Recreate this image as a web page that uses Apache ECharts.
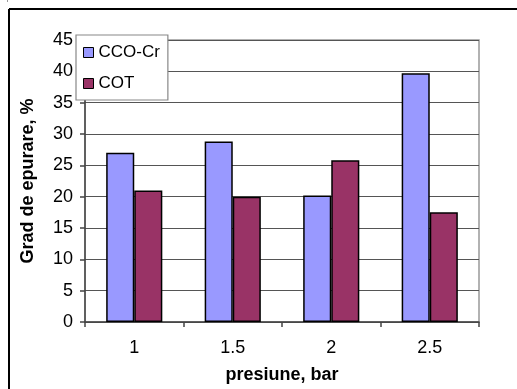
<!DOCTYPE html>
<html>
<head>
<meta charset="utf-8">
<script src="https://cdn.jsdelivr.net/npm/echarts@6/dist/echarts.min.js"></script>
<style>
html,body{margin:0;padding:0;background:#fff;}
#c{width:517px;height:389px;}
</style>
</head>
<body>
<div id="c"></div>
<script>
var categories = ['1', '1.5', '2', '2.5'];
var ccoCr = [27, 28.8, 20.2, 39.7];
var cot = [21, 20, 25.8, 17.5];
var yTicks = [0, 5, 10, 15, 20, 25, 30, 35, 40, 45];

var chart = echarts.init(document.getElementById('c'), null, {renderer: 'canvas'});
var font = '"Liberation Sans", Arial, sans-serif';
chart.setOption({
  animation: false,
  backgroundColor: '#fff',
  textStyle: {fontFamily: font},
  grid: {left: 85, right: 38, top: 40, bottom: 67, show: true, borderColor: '#999', borderWidth: 1.5, backgroundColor: 'transparent'},
  legend: {
    orient: 'vertical', left: 76, top: 35,
    backgroundColor: '#fff', borderColor: '#888', borderWidth: 1.2,
    padding: [9, 8, 8, 7], itemWidth: 10, itemHeight: 10, itemGap: 14, itemTextGap: 8,
    icon: 'rect',
    textStyle: {fontSize: 17, color: '#000', fontFamily: font},
    itemStyle: {borderColor: '#000', borderWidth: 1},
    data: ['CCO-Cr', 'COT'],
    z: 10
  },
  xAxis: {
    type: 'category', data: categories,
    name: 'presiune, bar', nameLocation: 'middle', nameGap: 44,
    nameTextStyle: {fontSize: 18, fontWeight: 'bold', color: '#000', fontFamily: font},
    axisLine: {lineStyle: {color: '#444', width: 1.5}},
    axisTick: {show: true, length: 5, lineStyle: {color: '#444', width: 1.5}},
    axisLabel: {fontSize: 18, color: '#000', margin: 17, fontFamily: font}
  },
  yAxis: {
    type: 'value', min: 0, max: 45, interval: 5,
    name: 'Grad de epurare, %', nameLocation: 'middle', nameGap: 48,
    nameTextStyle: {fontSize: 18, fontWeight: 'bold', color: '#000', fontFamily: font},
    axisLine: {show: true, lineStyle: {color: '#444', width: 1.5}},
    axisTick: {show: true, length: 5, lineStyle: {color: '#444', width: 1.5}},
    axisLabel: {fontSize: 18, color: '#000', margin: 12, fontFamily: font,
      formatter: function (v) { return yTicks.indexOf(v) >= 0 ? String(v) : ''; }},
    splitLine: {lineStyle: {color: '#555', width: 1.2}}
  },
  series: [
    {name: 'CCO-Cr', type: 'bar', data: ccoCr, barWidth: '28.5%', barGap: '0%',
      itemStyle: {color: '#9999FF', borderColor: '#000', borderWidth: 1.5}},
    {name: 'COT', type: 'bar', data: cot, barWidth: '28.5%', barGap: '0%',
      itemStyle: {color: '#993366', borderColor: '#000', borderWidth: 1.5}}
  ],
  graphic: [
    {type: 'line', shape: {x1: 9, y1: 9, x2: 517, y2: 9}, style: {stroke: '#000', lineWidth: 2}},
    {type: 'line', shape: {x1: 9, y1: 9, x2: 9, y2: 389}, style: {stroke: '#000', lineWidth: 2}},
    {type: 'line', shape: {x1: 7.5, y1: 0, x2: 7.5, y2: 2}, style: {stroke: '#999', lineWidth: 1}}
  ]
});
</script>
</body>
</html>
